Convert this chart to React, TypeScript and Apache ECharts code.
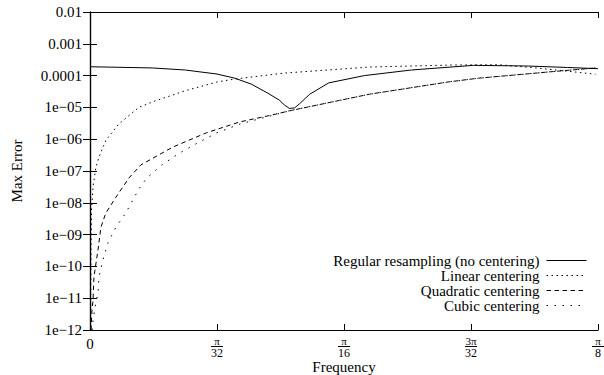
import React, { useEffect, useRef } from "react";
import * as echarts from "echarts";

// Frequency measured in units of pi/32 (axis 0 .. 4 = 0 .. pi/8)
const xTickLabels = ["0", "π/32", "π/16", "3π/32", "π/8"];
// exponents -12 .. -2
const yTickLabels = [
  "1e−12", "1e−11", "1e−10", "1e−09", "1e−08", "1e−07", "1e−06", "1e−05",
  "0.0001", "0.001", "0.01",
];

const seriesNames = [
  "Regular resampling (no centering)",
  "Linear centering",
  "Quadratic centering",
  "Cubic centering",
];

const regularFreq = [0, 0.49, 0.75, 1.0, 1.14, 1.27, 1.4, 1.49, 1.53, 1.57, 1.61, 1.65, 1.73, 1.88, 2.16, 2.53, 3.02, 3.45, 3.76, 4.0];
const regularErr = [1.9e-4, 1.74e-4, 1.5e-4, 1.12e-4, 8.3e-5, 5.4e-5, 2.8e-5, 1.7e-5, 1.2e-5, 9.3e-6, 9.6e-6, 1.3e-5, 2.6e-5, 5.9e-5, 1.0e-4, 1.5e-4, 2.1e-4, 2.0e-4, 1.8e-4, 1.65e-4];

const linearFreq = [0.004, 0.008, 0.012, 0.024, 0.047, 0.071, 0.125, 0.227, 0.384, 0.494, 0.745, 1.0, 1.14, 1.53, 2.2, 2.85, 3.22, 3.51, 3.76, 3.98];
const linearErr = [1e-12, 3.3e-10, 5.9e-9, 3.2e-8, 1.35e-7, 2.75e-7, 9.3e-7, 3.0e-6, 1.0e-5, 1.5e-5, 3.3e-5, 6.3e-5, 7.8e-5, 1.2e-4, 1.86e-4, 2.15e-4, 2.2e-4, 1.74e-4, 1.38e-4, 1.1e-4];

const quadFreq = [0.008, 0.016, 0.024, 0.031, 0.063, 0.086, 0.125, 0.204, 0.306, 0.4, 0.65, 0.918, 1.18, 1.435, 1.57, 2.2, 2.82, 3.06, 3.61, 3.98];
const quadErr = [1e-12, 4.3e-12, 8.7e-12, 4.7e-11, 3.3e-10, 1.7e-9, 4.8e-9, 1.5e-8, 6e-8, 1.55e-7, 5.6e-7, 1.6e-6, 3.5e-6, 5.8e-6, 7.8e-6, 2.6e-5, 6.3e-5, 8.3e-5, 1.3e-4, 1.74e-4];

const cubicFreq = [0.016, 0.024, 0.039, 0.063, 0.071, 0.102, 0.141, 0.204, 0.282, 0.384, 0.447, 0.565, 0.706, 0.847, 1.0, 1.08, 1.18, 1.435, 1.57, 2.2, 2.82, 3.06, 3.61, 3.98];
const cubicErr = [1e-12, 2.0e-12, 5.2e-12, 1.45e-11, 4.7e-11, 1.6e-10, 5.5e-10, 1.7e-9, 4.8e-9, 2.7e-8, 6.0e-8, 1.55e-7, 3.7e-7, 7.6e-7, 1.6e-6, 2.1e-6, 3.0e-6, 5.6e-6, 7.8e-6, 2.6e-5, 6.3e-5, 8.3e-5, 1.3e-4, 1.74e-4];

const FONT = "Liberation Serif";

function zip(xs: number[], ys: number[]) {
  return xs.map((x, i) => [x, ys[i]]);
}

export default function App() {
  const ref = useRef<HTMLDivElement>(null);
  useEffect(() => {
    if (!ref.current) return;
    const chart = echarts.init(ref.current, null, { renderer: "svg" });
    const xLabelFormatter = (v: number) => {
      const lab = xTickLabels[Math.round(v)] ?? "";
      if (lab.indexOf("/") < 0) return `{z|${lab}}`;
      const [n, d] = lab.split("/");
      return `{n|${n}}\n{b| }\n{d|${d}}`;
    };
    const yLabelFormatter = (v: number) => {
      const e = Math.round(Math.log10(v));
      return yTickLabels[e + 12] ?? "";
    };
    const axisLine = { show: true, lineStyle: { color: "#000", width: 1.2 } };
    const lineTypes: any[] = ["solid", [1.5, 3.5], [4.5, 3.5], [1.5, 6.5]];
    const datas = [
      zip(regularFreq, regularErr),
      zip(linearFreq, linearErr),
      zip(quadFreq, quadErr),
      zip(cubicFreq, cubicErr),
    ];
    chart.setOption({
      animation: false,
      textStyle: { fontFamily: FONT },
      grid: { left: 90, right: 6, top: 12, bottom: 45, containLabel: false, outerBoundsMode: "none" },
      legend: {
        orient: "vertical",
        right: 12,
        top: 248,
        align: "right",
        itemWidth: 40,
        itemHeight: 8,
        itemGap: 0,
        selectedMode: false,
        data: seriesNames,
        itemStyle: { opacity: 0 },
        lineStyle: { width: 1 },
        formatter: (name: string) => `{a|${name}}`,
        textStyle: {
          fontFamily: FONT,
          fontSize: 15,
          lineHeight: 12,
          color: "#000",
          padding: [0, 2, 0, 0],
          rich: { a: { fontFamily: FONT, fontSize: 15, lineHeight: 12, height: 12, color: "#000" } },
        },
      },
      xAxis: [
        {
          type: "value",
          min: 0,
          max: 4,
          interval: 1,
          position: "bottom",
          name: "Frequency",
          nameLocation: "middle",
          nameGap: 29,
          nameMoveOverlap: false,
          nameTextStyle: { fontFamily: FONT, fontSize: 15, color: "#000" },
          axisLine,
          axisTick: { show: true, inside: true, length: 6, lineStyle: { color: "#000" } },
          splitLine: { show: false },
          axisLabel: {
            formatter: xLabelFormatter,
            margin: 7,
            color: "#000",
            fontFamily: FONT,
            rich: {
              z: { fontFamily: FONT, fontSize: 15, lineHeight: 14, color: "#000" },
              n: { fontFamily: FONT, fontSize: 11, lineHeight: 8, color: "#000", align: "center" },
              b: { width: 12, height: 1, lineHeight: 3, backgroundColor: "#000", align: "center" },
              d: { fontFamily: FONT, fontSize: 12, lineHeight: 10, color: "#000", align: "center" },
            },
          },
        },
        {
          type: "value",
          min: 0,
          max: 4,
          interval: 1,
          position: "top",
          axisLine,
          axisTick: { show: true, inside: true, length: 6, lineStyle: { color: "#000" } },
          axisLabel: { show: false },
          splitLine: { show: false },
        },
      ],
      yAxis: [
        {
          type: "log",
          logBase: 10,
          min: 1e-12,
          max: 1e-2,
          interval: 1,
          splitNumber: 10,
          position: "left",
          name: "Max Error",
          nameLocation: "middle",
          nameGap: 66,
          nameMoveOverlap: false,
          nameRotate: 90,
          nameTextStyle: { fontFamily: FONT, fontSize: 15, color: "#000" },
          axisLine,
          axisTick: { show: true, inside: true, length: 7, lineStyle: { color: "#000" } },
          splitLine: { show: false },
          axisLabel: { formatter: yLabelFormatter, margin: 8, color: "#000", fontFamily: FONT, fontSize: 15 },
        },
        {
          type: "log",
          logBase: 10,
          min: 1e-12,
          max: 1e-2,
          interval: 1,
          splitNumber: 10,
          position: "right",
          axisLine,
          axisTick: { show: true, inside: true, length: 7, lineStyle: { color: "#000" } },
          axisLabel: { show: false },
          splitLine: { show: false },
        },
      ],
      series: seriesNames.map((name, i) => ({
        name,
        type: "line",
        xAxisIndex: 0,
        yAxisIndex: 0,
        data: datas[i],
        symbol: "none",
        showSymbol: false,
        smooth: false,
        clip: true,
        color: "#000",
        lineStyle: { color: "#000", width: 1, type: lineTypes[i] },
      })),
    });
    return () => chart.dispose();
  }, []);
  return (
    <div
      ref={ref}
      style={{ position: "fixed", left: 0, top: 0, width: 604, height: 375, background: "#fff" }}
    />
  );
}
